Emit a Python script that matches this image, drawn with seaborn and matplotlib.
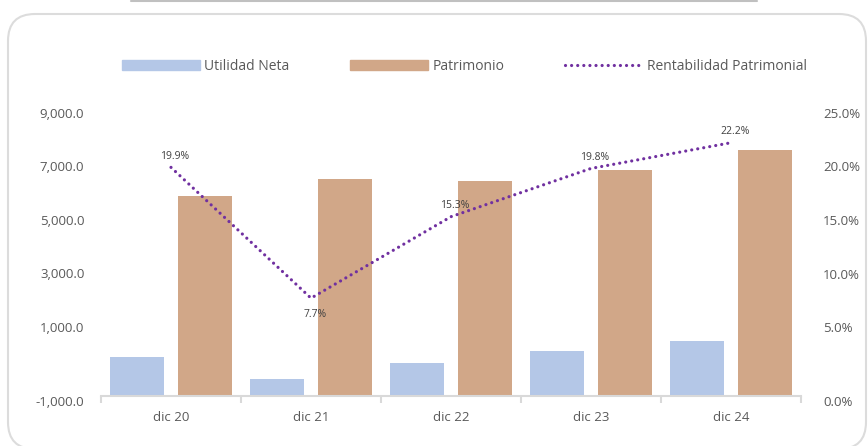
import numpy as np
import pandas as pd
import matplotlib
matplotlib.use("Agg")
import matplotlib.pyplot as plt
from matplotlib.patches import FancyBboxPatch, Patch
from matplotlib.lines import Line2D
from matplotlib.transforms import IdentityTransform, ScaledTranslation
import seaborn as sns

# Data
periodos = ["dic 20", "dic 21", "dic 22", "dic 23", "dic 24"]
utilidad_neta = [-110, -940, -345, 105, 465]
patrimonio = [5880, 6525, 6440, 6860, 7600]
rentabilidad = [19.9, 7.7, 15.3, 19.8, 22.2]

left_ticks = [1000, 3000, 5000, 7000, 9000]
left_bottom_label = "-1,000.0"
right_ticks = [5, 10, 15, 20, 25]
right_bottom_label = "0.0%"

# axis limits (the bottom labels sit at the axis floor, as in the reference)
Y_MIN, Y_MAX = -1556, 9000
R_MIN, R_MAX = -1.38, 25

BLUE = "#b4c7e7"
TAN = "#d1a788"
PURPLE = "#7030a0"
TEXT = "#595959"
GRID = "#d9d9d9"
DOTS = (0, (0.01, 1.9))

sns.set_theme(style="white")
plt.rcParams["font.family"] = ["Open Sans", "DejaVu Sans"]

fig = plt.figure(figsize=(8.68, 4.46), dpi=100)
ax = fig.add_axes([101 / 868, 1 - 395.5 / 446, 700 / 868, (395.5 - 112.7) / 446])

df = pd.DataFrame({
    "periodo": periodos * 2,
    "serie": ["Utilidad Neta"] * len(periodos) + ["Patrimonio"] * len(periodos),
    "valor": utilidad_neta + patrimonio,
})
sns.barplot(data=df, x="periodo", y="valor", hue="serie", palette=[BLUE, TAN],
            saturation=1, width=0.984, gap=0.215, linewidth=0, legend=False, ax=ax)

# bars grow from the axis floor, like the original chart
for p in ax.patches:
    top = p.get_y() + p.get_height()
    p.set_y(Y_MIN)
    p.set_height(top - Y_MIN)

ax.set_xlim(-0.5, len(periodos) - 0.5)
ax.set_ylim(Y_MIN, Y_MAX)
ax.set_xlabel("")
ax.set_ylabel("")

ax.set_yticks([Y_MIN] + left_ticks, [left_bottom_label] + [f"{v:,.1f}" for v in left_ticks])
ax.tick_params(axis="y", length=0, pad=12, labelsize=9.5, labelcolor=TEXT)
ax.set_xticks(range(len(periodos)), periodos)
ax.set_xticks(np.arange(-0.5, len(periodos), 1), minor=True)
ax.tick_params(axis="x", which="major", length=0, pad=11, labelsize=9.5, labelcolor=TEXT)
ax.tick_params(axis="x", which="minor", bottom=True, length=5, width=1.5, color=GRID)

for s in ["top", "left", "right"]:
    ax.spines[s].set_visible(False)
ax.spines["bottom"].set_color(GRID)
ax.spines["bottom"].set_linewidth(1.5)

# secondary axis: Rentabilidad Patrimonial
ax2 = ax.twinx()
sns.lineplot(x=np.arange(len(periodos)), y=rentabilidad, ax=ax2, color=PURPLE,
             linewidth=2.3, linestyle=DOTS, dash_capstyle="round")
ax2.set_ylim(R_MIN, R_MAX)
ax2.set_yticks([R_MIN] + right_ticks, [right_bottom_label] + [f"{v:.1f}%" for v in right_ticks])
ax2.tick_params(axis="y", right=False, length=0, pad=16, labelsize=9.5, labelcolor=TEXT)
for s in ax2.spines.values():
    s.set_visible(False)

for i, v in enumerate(rentabilidad):
    dy = -16 if i == 1 else 11
    ax2.annotate(f"{v:.1f}%", (i, v), xytext=(4, dy), textcoords="offset pixels",
                 ha="center", va="center", fontsize=7.5, color="#404040")

# nudge the floor labels a few pixels down
shift = ScaledTranslation(0, -6 / 100, fig.dpi_scale_trans)
for lab in (ax.get_yticklabels()[0], ax2.get_yticklabels()[0]):
    lab.set_transform(lab.get_transform() + shift)

# legend
handles = [
    Patch(color=BLUE),
    Patch(color=TAN),
    Line2D([], [], color=PURPLE, linewidth=2.3, linestyle=DOTS, dash_capstyle="round"),
]
fig.legend(handles, ["Utilidad Neta", "Patrimonio", "Rentabilidad Patrimonial"],
           loc="center", bbox_to_anchor=(464.5 / 868, 1 - 66 / 446), ncol=3,
           frameon=False, handlelength=5.6, handleheight=0.72, handletextpad=0.3,
           columnspacing=4.4, fontsize=10, labelcolor=TEXT)

# rounded panel frame and the top rule (pixel coordinates)
frame = FancyBboxPatch((8, 446 - 449), 858, 435,
                       boxstyle="round,pad=0,rounding_size=27",
                       transform=IdentityTransform(), facecolor="none",
                       edgecolor="#dcdcdc", linewidth=1.5)
fig.patches.append(frame)
fig.lines.append(Line2D([131, 757], [445, 445], transform=IdentityTransform(),
                        color="#c0c0c0", linewidth=1.5))

fig.savefig("out.png", dpi=100)
